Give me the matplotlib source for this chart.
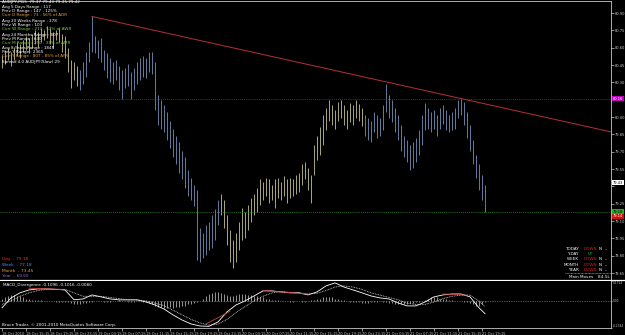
import numpy as np
import matplotlib
matplotlib.use("Agg")
import matplotlib.pyplot as plt
from matplotlib.lines import Line2D

# AUDJPY M15 price bars, one entry per drawn bar
high = [80.54, 80.58, 80.60, 80.56, 80.61, 80.65, 80.63, 80.67, 80.70, 80.68,
        80.72, 80.75, 80.74, 80.77, 80.75, 80.79, 80.77, 80.74, 80.75, 80.77,
        80.72, 80.70, 80.60, 80.49, 80.48, 80.44, 80.41, 80.48, 80.56, 80.65,
        80.87, 80.70, 80.67, 80.68, 80.58, 80.55, 80.51, 80.48, 80.49, 80.44,
        80.41, 80.42, 80.46, 80.39, 80.42, 80.48, 80.51, 80.53, 80.51, 80.56,
        80.56, 80.48, 80.19, 80.15, 80.10, 80.04, 79.97, 79.90, 79.84, 79.78,
        79.71, 79.65, 79.54, 79.47, 79.41, 79.37, 79.04, 79.00, 79.07, 79.09,
        79.15, 79.20, 79.28, 79.33, 79.28, 79.15, 79.02, 78.94, 79.00, 79.09,
        79.21, 79.18, 79.24, 79.30, 79.33, 79.39, 79.46, 79.44, 79.47, 79.46,
        79.41, 79.46, 79.47, 79.44, 79.49, 79.46, 79.47, 79.46, 79.50, 79.52,
        79.59, 79.61, 79.56, 79.50, 79.76, 79.84, 79.91, 80.02, 80.08, 80.15,
        80.10, 80.06, 80.13, 80.15, 80.10, 80.06, 80.12, 80.10, 80.15, 80.11,
        80.08, 80.02, 79.99, 79.97, 80.04, 80.02, 79.99, 80.10, 80.29, 80.19,
        80.15, 80.08, 80.02, 79.93, 79.84, 79.80, 79.76, 79.78, 79.82, 79.89,
        80.02, 80.12, 80.08, 80.04, 80.06, 80.02, 80.08, 80.10, 80.06, 80.02,
        80.04, 80.08, 80.15, 80.16, 80.13, 80.04, 79.93, 79.80, 79.67, 79.59,
        79.50, 79.41]
low = [80.42, 80.46, 80.49, 80.44, 80.49, 80.53, 80.51, 80.56, 80.58, 80.55,
       80.60, 80.63, 80.61, 80.65, 80.67, 80.68, 80.63, 80.60, 80.67, 80.65,
       80.56, 80.51, 80.39, 80.25, 80.32, 80.27, 80.23, 80.29, 80.35, 80.48,
       80.56, 80.55, 80.51, 80.48, 80.41, 80.34, 80.30, 80.29, 80.32, 80.23,
       80.16, 80.25, 80.27, 80.16, 80.23, 80.29, 80.32, 80.35, 80.34, 80.39,
       80.37, 80.06, 79.93, 79.90, 79.87, 79.80, 79.73, 79.65, 79.59, 79.52,
       79.46, 79.39, 79.32, 79.28, 79.23, 78.76, 78.75, 78.78, 78.81, 78.85,
       78.87, 78.94, 79.07, 79.15, 79.04, 78.89, 78.75, 78.69, 78.75, 78.85,
       78.94, 78.95, 79.02, 79.09, 79.15, 79.18, 79.24, 79.28, 79.32, 79.26,
       79.28, 79.21, 79.30, 79.28, 79.32, 79.26, 79.30, 79.32, 79.33, 79.35,
       79.41, 79.46, 79.37, 79.26, 79.50, 79.63, 79.67, 79.76, 79.89, 79.97,
       79.93, 79.90, 79.97, 79.99, 79.93, 79.90, 79.96, 79.93, 79.99, 79.97,
       79.92, 79.84, 79.80, 79.78, 79.87, 79.82, 79.84, 79.89, 80.04, 79.99,
       79.96, 79.87, 79.80, 79.71, 79.65, 79.61, 79.54, 79.56, 79.61, 79.67,
       79.76, 79.89, 79.90, 79.87, 79.90, 79.84, 79.90, 79.94, 79.89, 79.87,
       79.89, 79.90, 79.99, 80.02, 79.93, 79.82, 79.71, 79.59, 79.47, 79.37,
       79.28, 79.18]
# bar index where each colour run starts
trend_runs = [(0, "up"), (26, "down"), (73, "up"), (121, "down")]

# trend line through two highs (bar, price)
trend_a = (30, 80.87)
trend_b = (153, 80.16)
resist_level = 80.16
close_level = 79.43
bid_level = 79.18
ask_level = 79.14
price_ticks = [80.90, 80.75, 80.60, 80.45, 80.30, 80.15, 80.00, 79.85, 79.70,
               79.55, 79.40, 79.25, 79.10, 78.95, 78.80, 78.65]
# ticks hidden behind the price boxes on the scale
covered_ticks = [80.15, 79.40]

# MACD panel, lines sampled every 3 bars
macd_bars = [0, 3, 6, 9, 12, 15, 18, 21, 24, 27, 30,
             33, 36, 39, 42, 45, 48, 51, 54, 57, 60, 63,
             66, 69, 72, 75, 78, 81, 84, 87, 90, 93, 96,
             99, 102, 105, 108, 111, 114, 117, 120, 123, 126, 129,
             132, 135, 138, 141, 144, 147, 150, 153, 156, 159, 161]
macd_main = [-0.06, 0.026, 0.07, 0.095, 0.104, 0.104, 0.10, 0.095, 0.01, 0.017, 0.052,
             0.035, 0.017, 0.009, 0.009, 0.009, -0.009, -0.035, -0.07, -0.121, -0.165, -0.199,
             -0.217, -0.22, -0.182, -0.095, -0.035, 0.0, 0.043, 0.087, 0.087, 0.078, 0.07,
             0.07, 0.052, 0.078, 0.13, 0.156, 0.12, 0.095, 0.07, 0.043, 0.026, 0.017,
             -0.017, -0.043, -0.043, -0.009, 0.035, 0.052, 0.06, 0.06, 0.035, -0.06, -0.11]
macd_signal = [-0.03, 0.0, 0.04, 0.07, 0.09, 0.10, 0.10, 0.10, 0.07, 0.04, 0.04,
               0.04, 0.03, 0.02, 0.01, 0.01, 0.0, -0.02, -0.04, -0.08, -0.12, -0.16,
               -0.19, -0.21, -0.20, -0.16, -0.10, -0.05, 0.0, 0.04, 0.07, 0.08, 0.075,
               0.07, 0.06, 0.065, 0.09, 0.12, 0.13, 0.12, 0.10, 0.07, 0.05, 0.03,
               0.01, -0.02, -0.03, -0.03, -0.01, 0.02, 0.04, 0.05, 0.05, 0.0, -0.05]
osma = [0.02, 0.03, 0.04, 0.05, 0.05, 0.04, 0.04, 0.03,
        0.02, 0.02, 0.01, 0.01, 0.01, 0.01, 0.0, 0.0, 0.0, 0.0, -0.01, -0.01, -0.01, -0.01,
        -0.01, -0.02, -0.03, -0.03, -0.03, -0.02, -0.02, -0.01, -0.01, 0.0, 0.0,
        0.0, -0.01, -0.01, -0.01, 0.0, 0.0, 0.01, 0.0, 0.0, -0.01, -0.01, -0.01, 0.0, 0.0, -0.01, -0.01,
        -0.02, -0.03, -0.04, -0.05, -0.05, -0.06, -0.06, -0.05, -0.06, -0.05, -0.05, -0.04, -0.04, -0.03, -0.03, -0.02,
        -0.01, 0.0, 0.02, 0.04, 0.06, 0.07, 0.08, 0.08, 0.07, 0.06, 0.05, 0.04, 0.04,
        0.05, 0.06, 0.06, 0.06, 0.05, 0.05, 0.04, 0.04, 0.03, 0.03, 0.02, 0.02, 0.01,
        0.01, 0.01, 0.0, 0.0, 0.0, -0.01, -0.01, 0.0, 0.0, -0.01, -0.01, 0.0, 0.01, 0.01,
        0.02, 0.02, 0.03, 0.03, 0.03, 0.03, 0.02, 0.02, 0.01, 0.01, 0.0, -0.01, -0.01,
        -0.01, -0.01, -0.02, -0.02, -0.02, -0.01, -0.01, -0.01, 0.0,
        -0.01, -0.01, -0.02, -0.02, -0.03, -0.03, -0.03, -0.03, -0.03, -0.02, -0.02, -0.01, -0.01,
        0.0, 0.01, 0.02, 0.03, 0.03, 0.03, 0.02, 0.02, 0.02, 0.01, 0.01,
        0.0, 0.0, 0.0, -0.01, -0.01,
        -0.02, -0.03, -0.04, -0.04, -0.03, -0.01]
macd_div = [((9, 0.11), (20, 0.10)), ((68, -0.20), (76, -0.09)),
            ((87, 0.09), (102, 0.06)), ((147, 0.06), (155, 0.05))]
macd_max, macd_min = 0.1724, -0.2344

time_labels = ["18 Oct 2010", "18 Oct 15:15", "18 Oct 19:15", "18 Oct 23:15",
               "19 Oct 03:15", "19 Oct 07:15", "19 Oct 11:15", "19 Oct 15:15",
               "19 Oct 19:15", "19 Oct 23:15", "20 Oct 03:15", "20 Oct 07:15",
               "20 Oct 11:15", "20 Oct 15:15", "20 Oct 19:15", "20 Oct 23:15",
               "21 Oct 03:15", "21 Oct 07:15", "21 Oct 11:15", "21 Oct 15:15",
               "21 Oct 19:15"]
bars_per_label = 8

info_lines = [("AUDJPY,M15  79.37 79.43 79.35 79.42", "w"),
              ("Avg 5 Days Range : 117", "w"),
              ("Prev D Range : 147 - 125%", "w"),
              ("Curr D Range : 73 - 56% of ADR", "o"),
              ("Avg 20 Weeks Range : 378", "w"),
              ("Prev W Range : 103", "w"),
              ("Curr W Range : 217 - 57% of AWR", "g"),
              ("Avg 24 Months Range : 807", "w"),
              ("Prev M Range : 640", "w"),
              ("Curr M Range : 250 - 31% of AMR", "g"),
              ("Avg 8 Years Range : 1845", "w"),
              ("Prev Y Range : 2365", "w"),
              ("Curr Y Range : 807 - 85% of AYR", "o"),
              ("Spread 4.0 AUDJPY(Slow) 29", "w")]
pivots = [("Day", "79.18"), ("Week", "77.18"), ("Month", "73.45"), ("Year", "69.60")]
moves = [("TODAY", "DOWN", "N", "--"), ("Y-DAY", "UP", "", ""),
         ("WEEK", "DOWN", "N", "--"), ("MONTH", "DOWN", "N", "--"),
         ("YEAR", "DOWN", "N", "--")]

W, H = 625, 335
fig = plt.figure(figsize=(W / 100, H / 100), dpi=100, facecolor="black")
ax = fig.add_axes([0, 55 / H, 611 / W, 279 / H], facecolor="black")
ax2 = fig.add_axes([0, 7 / H, 611 / W, 47 / H], facecolor="black")

def px(x, y, s, color, size=3.0, **kw):
    fig.text(x / W, 1 - y / H, s, color=color, fontsize=size, va="center", **kw)

# price bars
run_color = {"up": "#c8c28a", "down": "#7090bc"}
colors = []
for i in range(len(high)):
    kind = [k for start, k in trend_runs if start <= i][-1]
    colors.append(run_color[kind])
bars = np.arange(len(high))
ax.vlines(bars, low, high, colors=colors, linewidth=0.6)

x_right = 203
ax.set_xlim(-0.67, x_right)
ax.set_ylim(78.59, 81.004)

slope = (trend_b[1] - trend_a[1]) / (trend_b[0] - trend_a[0])
ax.plot([trend_a[0], x_right], [trend_a[1], trend_a[1] + slope * (x_right - trend_a[0])],
        color="#b83030", linewidth=0.7)
ax.axhline(resist_level, color="#c000c0", linewidth=0.6, linestyle=(0, (1, 1.5)))
ax.axhline(bid_level, color="#2f9a2f", linewidth=0.6, linestyle=(0, (1, 1.5)))

ax.yaxis.tick_right()
ax.set_yticks(price_ticks)
ax.set_yticklabels(["" if t in covered_ticks else f"{t:.2f}" for t in price_ticks])
ax.tick_params(axis="y", colors="#c8c8c8", labelsize=2.6, length=2, width=0.5, pad=1)
ax.set_xticks([])
ax.spines["left"].set_visible(False)
for side in ["top", "right"]:
    ax.spines[side].set_color("#c8c8c8")
    ax.spines[side].set_linewidth(0.6)
ax.spines["bottom"].set_color("white")
ax.spines["bottom"].set_linewidth(0.9)

tr = ax.get_yaxis_transform()
for val, fc, tc in [(resist_level, "#c000c0", "white"), (close_level, "white", "black"),
                    (bid_level, "#20b020", "black"), (ask_level, "#d01010", "white")]:
    ax.text(1.003, val, f"{val:.2f}", transform=tr, fontsize=2.6, color=tc, va="center",
            ha="left", clip_on=False, zorder=5,
            bbox=dict(facecolor=fc, edgecolor="none", pad=0.4))

# MACD panel
ax2.set_xlim(-0.67, x_right)
ax2.set_ylim(macd_min, macd_max)
ax2.axhline(0, color="#a0a0a0", linewidth=0.5, linestyle=(0, (1, 1.5)))
ax2.vlines(np.arange(len(osma)), 0, osma, colors="#d0d0d0", linewidth=0.5)
ax2.plot(macd_bars, macd_main, color="white", linewidth=0.6)
ax2.plot(macd_bars, macd_signal, color="#d8d8d8", linewidth=0.6, linestyle=(0, (1, 1)))
for a, b in macd_div:
    ax2.plot([a[0], b[0]], [a[1], b[1]], color="#c84040", linewidth=0.6)

ax2.yaxis.tick_right()
ax2.set_yticks([macd_min, 0, macd_max])
ax2.set_yticklabels([f"{macd_min:.4f}", "0.00", f"{macd_max:.4f}"])
ax2.tick_params(axis="y", colors="#c8c8c8", labelsize=2.1, length=1, width=0.5, pad=0.4)
ylabs = ax2.get_yticklabels()
ylabs[0].set_va("bottom")
ylabs[2].set_va("top")
ax2.set_xticks(bars_per_label * np.arange(len(time_labels)))
ax2.set_xticklabels(time_labels, ha="left")
ax2.tick_params(axis="x", colors="#c8c8c8", labelsize=2.6, length=2, width=0.5, pad=1)
ax2.spines["left"].set_visible(False)
ax2.spines["top"].set_visible(False)
for side in ["right", "bottom"]:
    ax2.spines[side].set_color("#c8c8c8")
    ax2.spines[side].set_linewidth(0.6)

# separator across the full width
fig.add_artist(Line2D([611 / W, 1], [1 - 280 / H, 1 - 280 / H], color="white", linewidth=0.9))

# text overlays
info_color = {"w": "white", "o": "#e8a040", "g": "#70d040"}
info_y = [2, 7, 11, 15, 21, 25, 29, 35, 39, 43, 48, 52, 56, 62]
for (s, c), y in zip(info_lines, info_y):
    px(2, y, s, info_color[c], size=3.0)

pivot_colors = ["#e03030", "#4f8fff", "#e8a040", "#a060d8"]
for (name, val), y, c in zip(pivots, [259, 265, 271, 276], pivot_colors):
    px(2, y, f"{name}  - {val}", c, size=3.1)

px(3, 285, "MACD_Divergence -0.1096 -0.1016 -0.0080", "white", size=3.0)
px(2, 325, "Bruce Trader, \u00a9 2001-2010 MetaQuotes Software Corp.", "white", size=3.0)

state_color = {"DOWN": "#d02020", "UP": "#30b030"}
for (name, state, n, d), y in zip(moves, [249, 254, 259, 265, 270]):
    px(579, y, name, "white", size=3.0, ha="right")
    px(590, y, state, state_color[state], size=3.0, ha="center")
    px(600, y, n, "white", size=3.0, ha="center")
    px(606, y, d, "white", size=3.0, ha="center")
fig.add_artist(Line2D([565 / W, 610 / W], [1 - 273 / H, 1 - 273 / H], color="#c8c8c8",
                      linewidth=0.5, linestyle=(0, (1, 1))))
px(569, 277, "Main Moves", "white", size=3.0)
px(598, 277, "8.4-5L", "white", size=3.0)

fig.savefig("out.png", dpi=100, facecolor="black")
